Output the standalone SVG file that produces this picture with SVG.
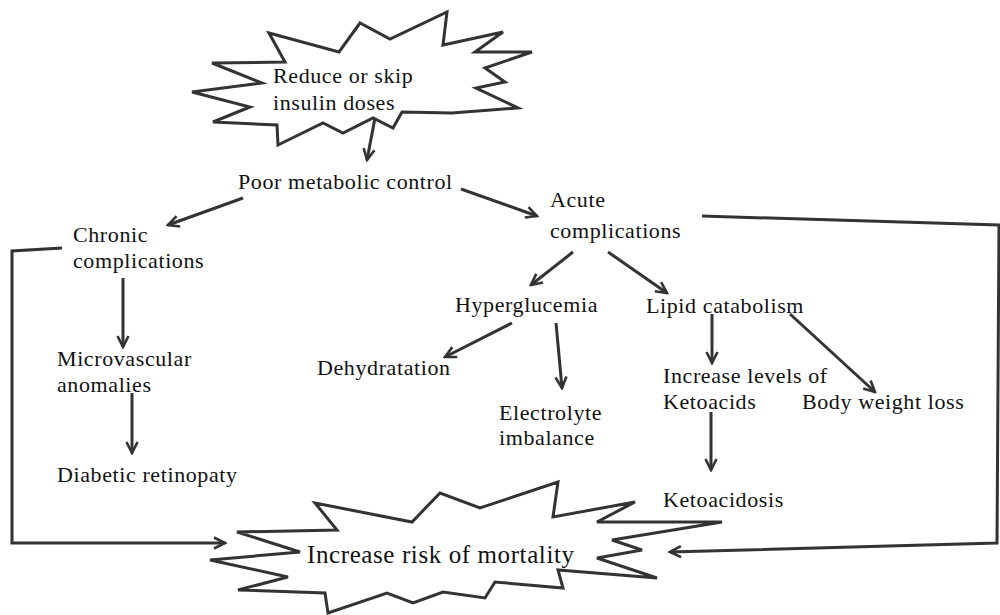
<svg xmlns="http://www.w3.org/2000/svg" width="1000" height="615" viewBox="0 0 1000 615">
<defs>
<style>
text{font-family:"Liberation Serif","Times New Roman",serif;font-size:22px;letter-spacing:0.6px;fill:#111}
.big{font-size:25px}
.star{fill:#fff;stroke:#333;stroke-width:3;stroke-linejoin:miter}
.c{fill:none;stroke:#333;stroke-width:3;stroke-linejoin:miter}
</style>
<marker id="ah" viewBox="0 0 14 14" refX="12" refY="7" markerWidth="14" markerHeight="14" markerUnits="userSpaceOnUse" orient="auto">
<path d="M1,1.5 L12,7 L1,12.5" fill="none" stroke="#333" stroke-width="2.6"/>
</marker>
</defs>
<rect width="1000" height="615" fill="#fff"/>
<g id="connectors">
<line class="c" x1="375" y1="118" x2="367" y2="160" marker-end="url(#ah)"/>
<line class="c" x1="243" y1="198" x2="168" y2="225" marker-end="url(#ah)"/>
<line class="c" x1="123" y1="278" x2="123" y2="347" marker-end="url(#ah)"/>
<line class="c" x1="132" y1="393" x2="132" y2="453" marker-end="url(#ah)"/>
<polyline class="c" points="62,248 12,251 12,543 225,543" marker-end="url(#ah)"/>
<line class="c" x1="461" y1="189" x2="537" y2="216" marker-end="url(#ah)"/>
<line class="c" x1="573" y1="252" x2="531" y2="285" marker-end="url(#ah)"/>
<line class="c" x1="608" y1="252" x2="667" y2="293" marker-end="url(#ah)"/>
<line class="c" x1="512" y1="323" x2="445" y2="357" marker-end="url(#ah)"/>
<line class="c" x1="556" y1="323" x2="562" y2="388" marker-end="url(#ah)"/>
<line class="c" x1="712" y1="314" x2="712" y2="363" marker-end="url(#ah)"/>
<line class="c" x1="790" y1="314" x2="875" y2="392" marker-end="url(#ah)"/>
<line class="c" x1="711" y1="412" x2="711" y2="470" marker-end="url(#ah)"/>
<polyline class="c" points="702,216 999,225 997,543 670,552" marker-end="url(#ah)"/>
</g>
<g id="node-reduce">
<polygon class="star" points="269,33 339,52 360,23 390,39 447,12 443,45 503,32 475,52 532,52 485,68 505,82 476,88 518,108 452,113 402,112 393,128 373,118 343,133 323,123 278,145 277,125 213,122 250,107 192,92 262,83 212,63 285,62"/>
<text x="273" y="83">Reduce or skip</text>
<text x="273" y="110">insulin doses</text>
</g>
<g id="node-poor"><text x="238" y="189">Poor metabolic control</text></g>
<g id="node-chronic"><text x="73" y="242">Chronic</text><text x="73" y="268">complications</text></g>
<g id="node-acute"><text x="550" y="207">Acute</text><text x="550" y="238">complications</text></g>
<g id="node-hyper"><text x="455" y="312">Hyperglucemia</text></g>
<g id="node-lipid"><text x="646" y="313">Lipid catabolism</text></g>
<g id="node-micro"><text x="57" y="366">Microvascular</text><text x="57" y="392">anomalies</text></g>
<g id="node-retino"><text x="57" y="482">Diabetic retinopaty</text></g>
<g id="node-dehyd"><text x="317" y="375">Dehydratation</text></g>
<g id="node-electro"><text x="499" y="420">Electrolyte</text><text x="499" y="445">imbalance</text></g>
<g id="node-keto-levels"><text x="663" y="383">Increase levels of</text><text x="663" y="409">Ketoacids</text></g>
<g id="node-weight"><text x="802" y="409">Body weight loss</text></g>
<g id="node-ketoacidosis"><text x="663" y="507">Ketoacidosis</text></g>
<g id="node-mortality">
<polygon class="star" points="315,503 337,530 237,532 300,552 210,560 288,577 238,590 325,593 328,613 387,593 413,603 443,592 485,598 495,582 563,588 558,570 657,578 597,558 642,550 612,540 722,522 597,522 635,502 553,517 558,482 480,508 440,493 412,522"/>
<text class="big" x="307" y="563">Increase risk of mortality</text>
</g>
</svg>
